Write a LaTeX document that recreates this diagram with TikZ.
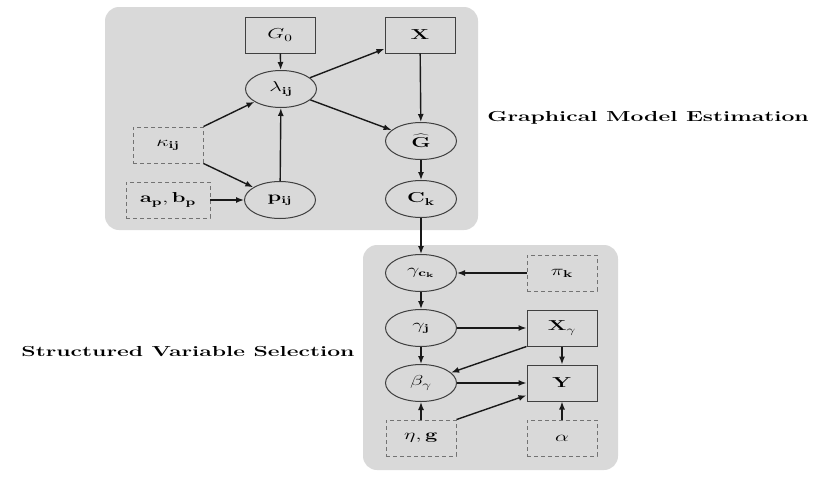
\documentclass[tikz,border=0pt]{standalone}
\usepackage{graphicx}
\usetikzlibrary{shapes.geometric,arrows.meta}
\newcommand\sx[1]{\scalebox{1.52}[1]{#1}}
\newcommand\sxl[1]{\scalebox{1.58}[1]{#1}}
\begin{document}
\begin{tikzpicture}[x=1pt,y=-1pt,
  every node/.style={font=\fontsize{14.5}{17}\selectfont, inner sep=0pt},
  panel/.style={fill=black!15, draw=none, rounded corners=14pt},
  ell/.style={ellipse, draw=black!75, line width=1pt, minimum width=71pt, minimum height=37pt},
  obs/.style={rectangle, draw=black!75, line width=1pt, minimum width=70pt, minimum height=36pt},
  hyp/.style={rectangle, draw=black!55, dash pattern=on 4pt off 3pt, line width=0.9pt, minimum width=70pt, minimum height=36pt},
  arr/.style={-{Latex[length=8pt,width=6pt]}, line width=1.4pt, black!90},
  lbl/.style={font=\fontsize{14.5}{17}\selectfont\bfseries}
]
\useasboundingbox (0,0) rectangle (830,485);
% panels
\node[panel, minimum width=373pt, minimum height=223pt] (p1) at (291.5,118.5) {};
\node[panel, minimum width=255pt, minimum height=225pt] (p2) at (490.5,357.5) {};
% panel 1
\node[obs] (G0) at (280,35) {\sx{$G_0$}};
\node[obs] (X) at (420,35) {\sx{$\mathbf{X}$}};
\node[ell] (lam) at (281,89) {\sx{$\lambda_{\mathbf{ij}}$}};
\node[ell] (Ghat) at (421,141) {\sx{$\widehat{\mathbf{G}}$}};
\node[ell] (Ck) at (421,199) {\sx{$\mathbf{C}_{\mathbf{k}}$}};
\node[hyp] (kap) at (168,145) {\sx{$\kappa_{\mathbf{ij}}$}};
\node[hyp, minimum width=84pt] (apbp) at (168,200) {\sx{$\mathbf{a_p}, \mathbf{b_p}$}};
\node[ell] (pij) at (280,200) {\sx{$\mathbf{p}_{\mathbf{ij}}$}};
% panel 2
\node[ell] (gck) at (421,273) {\sx{$\gamma_{\mathbf{c_k}}$}};
\node[hyp] (pik) at (562,273) {\sx{$\pi_{\mathbf{k}}$}};
\node[ell] (gj) at (421,328) {\sx{$\gamma_{\mathbf{j}}$}};
\node[obs] (Xg) at (562,328) {\sx{$\mathbf{X}_\gamma$}};
\node[ell] (beta) at (421,383) {\sx{$\beta_\gamma$}};
\node[obs] (Y) at (562,383) {\sx{$\mathbf{Y}$}};
\node[hyp] (eta) at (421,438) {\sx{$\eta, \mathbf{g}$}};
\node[hyp] (alp) at (562,438) {\sx{$\alpha$}};
% labels
\node[lbl] (l1) at (648,118) {\sxl{Graphical Model Estimation}};
\node[lbl] (l2) at (188,352) {\sxl{Structured Variable Selection}};
% edges panel 1
\draw[arr] (G0) -- (lam);
\draw[arr] (lam) -- (X);
\draw[arr] (lam) -- (Ghat);
\draw[arr] (X) -- (Ghat);
\draw[arr] (kap.north east) -- (lam);
\draw[arr] (kap.south east) -- (pij);
\draw[arr] (apbp) -- (pij);
\draw[arr] (pij) -- (lam);
\draw[arr] (Ghat) -- (Ck);
\draw[arr] (Ck) -- (gck);
% edges panel 2
\draw[arr] (pik) -- (gck);
\draw[arr] (gck) -- (gj);
\draw[arr] (gj) -- (Xg);
\draw[arr] (gj) -- (beta);
\draw[arr] (Xg.south west) -- (beta);
\draw[arr] (Xg) -- (Y);
\draw[arr] (beta) -- (Y);
\draw[arr] (eta) -- (beta);
\draw[arr] (eta.north east) -- (Y);
\draw[arr] (alp) -- (Y);
\end{tikzpicture}
\end{document}
